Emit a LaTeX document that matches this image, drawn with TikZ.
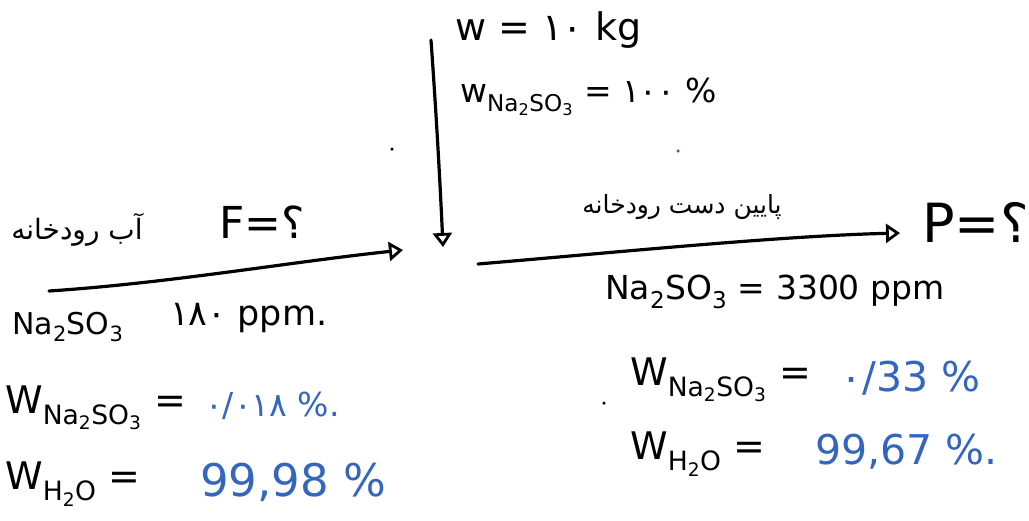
\documentclass[tikz,border=0pt]{standalone}
\usepackage{fontspec}
\setmainfont{DejaVu Sans}
\newfontfamily\arabicfont[Script=Arabic]{DejaVu Sans}
\TeXXeTstate=1
\usetikzlibrary{arrows.meta}
\definecolor{inkblue}{RGB}{52,102,190}
\tikzset{
  stream/.style={line width=3.2pt, line cap=round,
    -{Triangle[open,length=14pt,width=19pt,line width=2.8pt]}},
  lbl/.style={inner sep=0pt, font=\fontsize{#1}{#1}\selectfont},
  lbl/.default=32,
  val/.style={lbl=#1, text=inkblue},
  val/.default=32,
  fa/.style={inner sep=0pt, font=\arabicfont\fontsize{#1}{#1}\selectfont},
  fa/.default=26,
  speck/.style={fill, circle, inner sep=0pt, minimum size=3.5pt}
}
\begin{document}
\begin{tikzpicture}[x=1pt,y=-1pt]
\useasboundingbox (0,0) rectangle (1029,520);

% stream end points
\coordinate (feedStart) at (49,291);
\coordinate (mix) at (403,250);
\coordinate (saltStart) at (431,40);
\coordinate (saltEnd) at (443,247);
\coordinate (prodStart) at (478,264);
\coordinate (prodEnd) at (900,233);

% streams
\draw[stream] (feedStart) .. controls (170,283) and (290,262) .. (mix);
\draw[stream] (saltStart) .. controls (436,110) and (440,180) .. (saltEnd);
\draw[stream] (prodStart) .. controls (620,252) and (780,236) .. (prodEnd);

% feed labels
\node[fa=28] (feedName) at (77,230) {\beginR آب رودخانه\endR};
\node[lbl=44] (F) at (262,222) {F=؟};
\node[lbl=30, anchor=west] (feedSalt) at (12,327) {Na\textsubscript{2}SO\textsubscript{3}};
\node[lbl=35, anchor=west] (feedPpm) at (170,318) {۱۸۰ ppm.};
\node[lbl=38, anchor=west] (wSaltL) at (5,408) {W\textsubscript{Na\textsubscript{2}SO\textsubscript{3}} =};
\node[val=33, anchor=west] (wSaltLv) at (205,406) {۰/۰۱۸ \%.};
\node[lbl=38, anchor=west] (wWaterL) at (5,484) {W\textsubscript{H\textsubscript{2}O} =};
\node[val=45, anchor=west] (wWaterLv) at (200,482) {99,98 \%};

% salt stream labels
\node[lbl=38, anchor=west] (wTotal) at (455,30) {w = ۱۰ kg};
\node[lbl=33, anchor=west] (wSaltT) at (460,97) {w\textsubscript{Na\textsubscript{2}SO\textsubscript{3}} = ۱۰۰ \%};

% product labels
\node[fa=25] (prodName) at (682,207) {\beginR پایین دست رودخانه\endR};
\node[lbl=54, anchor=west] (P) at (922,222) {P=؟};
\node[lbl=33, anchor=west] (prodSalt) at (605,292) {Na\textsubscript{2}SO\textsubscript{3} = 3300 ppm};
\node[lbl=38, anchor=west] (wSaltR) at (630,380) {W\textsubscript{Na\textsubscript{2}SO\textsubscript{3}} =};
\node[val=41, anchor=west] (wSaltRv) at (840,378) {۰/33 \%};
\node[lbl=38, anchor=west] (wWaterR) at (630,454) {W\textsubscript{H\textsubscript{2}O} =};
\node[val=41, anchor=west] (wWaterRv) at (815,452) {99,67 \%.};

% stray specks
\node[speck] (d1) at (392,149) {};
\node[speck, fill=inkblue] (d2) at (678,151) {};
\node[speck] (d3) at (604,403) {};
\end{tikzpicture}
\end{document}
